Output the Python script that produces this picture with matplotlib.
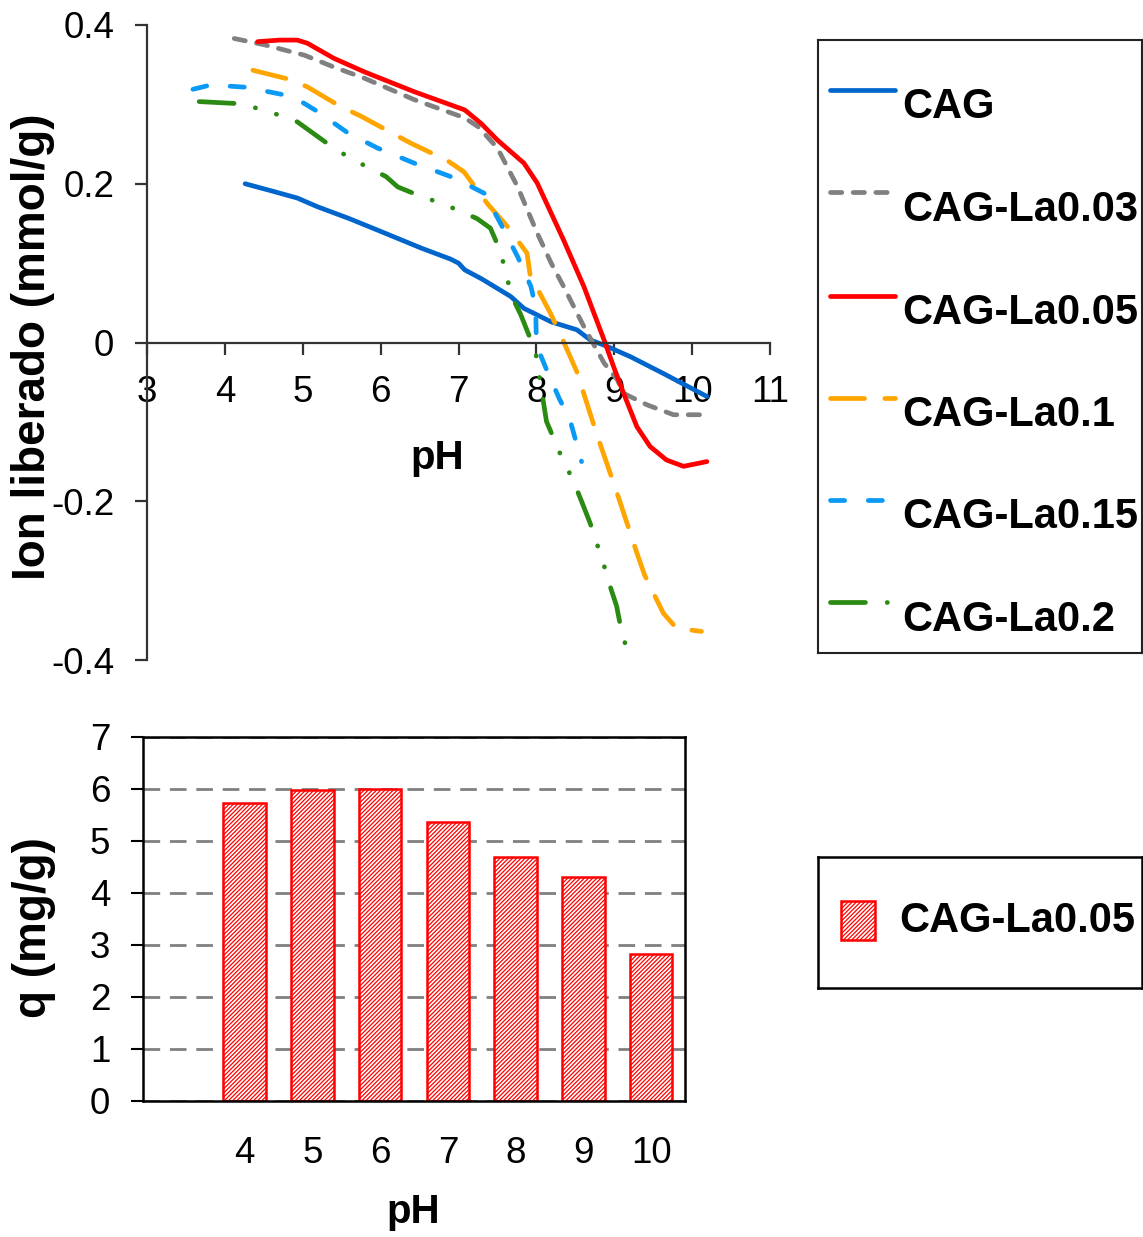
import matplotlib
matplotlib.use("Agg")
import matplotlib.pyplot as plt
from matplotlib.lines import Line2D
from matplotlib.patches import Rectangle

plt.rcParams['font.family'] = ['Liberation Sans', 'DejaVu Sans']
plt.rcParams['hatch.linewidth'] = 0.9

# ---- top panel: ion released vs pH ----
cag_x = [4.26, 4.60, 4.93, 5.19, 5.60, 6.00, 6.52, 6.90, 7.00, 7.08, 7.30, 7.67, 7.84, 8.19,
         8.52, 8.69, 8.91, 9.21, 9.63, 10.19]
cag_y = [0.200, 0.191, 0.182, 0.171, 0.156, 0.140, 0.119, 0.105, 0.100, 0.0915, 0.080, 0.058,
         0.043, 0.026, 0.016, 0.0034, -0.005, -0.018, -0.039, -0.068]

la003_x = [4.12, 4.51, 5.02, 5.40, 5.79, 6.43, 7.08, 7.25, 7.50, 7.76, 8.01, 8.19, 8.35, 8.61,
           8.87, 9.04, 9.12, 9.42, 9.76, 10.12]
la003_y = [0.383, 0.375, 0.362, 0.347, 0.333, 0.306, 0.283, 0.272, 0.245, 0.196, 0.138, 0.100,
           0.0705, 0.020, -0.026, -0.047, -0.064, -0.0785, -0.091, -0.091]

la005_x = [4.42, 4.70, 4.93, 5.06, 5.40, 5.79, 6.43, 7.08, 7.29, 7.50, 7.84, 8.01, 8.35, 8.61,
           8.87, 8.99, 9.12, 9.29, 9.46, 9.67, 9.89, 10.19]
la005_y = [0.379, 0.381, 0.381, 0.377, 0.358, 0.341, 0.316, 0.293, 0.276, 0.255, 0.226, 0.201,
           0.129, 0.0705, 0.003, -0.030, -0.064, -0.106, -0.131, -0.148, -0.156, -0.150]

la01_x = [4.36, 4.85, 5.06, 5.49, 5.75, 6.18, 6.39, 6.86, 7.07, 7.37, 7.63, 7.88, 7.92, 8.18,
          8.30, 8.52, 8.77, 9.03, 9.29, 9.39, 9.63, 9.80, 10.12]
la01_y = [0.343, 0.331, 0.322, 0.297, 0.285, 0.262, 0.251, 0.229, 0.215, 0.175, 0.146, 0.1125,
          0.085, 0.037, 0.012, -0.037, -0.114, -0.188, -0.265, -0.293, -0.341, -0.360, -0.364]

la015_x = [3.59, 3.82, 4.27, 4.76, 4.98, 5.19, 5.58, 5.96, 6.43, 6.90, 7.12, 7.33, 7.54, 7.76,
           7.93, 7.99, 8.00, 8.05, 8.13, 8.30, 8.43, 8.58]
la015_y = [0.319, 0.3245, 0.3216, 0.312, 0.3035, 0.291, 0.264, 0.245, 0.226, 0.209, 0.1986,
           0.188, 0.150, 0.108, 0.0705, 0.045, 0.003, -0.015, -0.034, -0.072, -0.097, -0.150]

la02_x = [3.67, 4.16, 4.42, 4.68, 4.93, 5.34, 5.58, 5.81, 6.07, 6.22, 6.47, 6.73, 6.99, 7.24,
          7.41, 7.52, 7.61, 7.67, 7.80, 7.99, 8.05, 8.13, 8.34, 8.47, 8.58, 8.69, 8.86, 8.94,
          9.03, 9.09, 9.20]
la02_y = [0.3035, 0.301, 0.295, 0.287, 0.278, 0.249, 0.234, 0.222, 0.209, 0.196, 0.186, 0.177,
          0.167, 0.156, 0.144, 0.119, 0.089, 0.061, 0.035, -0.012, -0.050, -0.0995, -0.148,
          -0.173, -0.200, -0.2275, -0.278, -0.305, -0.332, -0.362, -0.400]

series_names = ["CAG", "CAG-La0.03", "CAG-La0.05", "CAG-La0.1", "CAG-La0.15", "CAG-La0.2"]
series_x = [cag_x, la003_x, la005_x, la01_x, la015_x, la02_x]
series_y = [cag_y, la003_y, la005_y, la01_y, la015_y, la02_y]
series_colors = ["#0066CC", "#808080", "#FF0000", "#FFA500", "#0A99F5", "#2A8A12"]
series_dashes = [None, (2.4, 2.4), None, (7.2, 4.3), (3.0, 5.0),
                 (7.4, 4.6, 0.05, 4.6, 0.05, 4.6)]

x_ticks_top = [3, 4, 5, 6, 7, 8, 9, 10, 11]
y_ticks_top = [-0.4, -0.2, 0, 0.2, 0.4]
y_ticklabels_top = ["-0.4", "-0.2", "0", "0.2", "0.4"]

# ---- bottom panel: adsorption capacity ----
bar_ph = [4, 5, 6, 7, 8, 9, 10]
bar_q = [5.73, 5.98, 6.00, 5.37, 4.70, 4.30, 2.83]

W, H = 1143, 1237
fig = plt.figure(figsize=(W / 100, H / 100), dpi=100)


def px_axes(x0, y0, x1, y1):
    return fig.add_axes([x0 / W, 1 - y1 / H, (x1 - x0) / W, (y1 - y0) / H])


axis_col = "#333333"
tick_fs = 26.5
lw = 3.4

ax = px_axes(147, 25, 770, 660)
for xs, ys, c, d in zip(series_x, series_y, series_colors, series_dashes):
    ln, = ax.plot(xs, ys, color=c, lw=lw, solid_capstyle='round', dash_capstyle='round',
                  solid_joinstyle='round', dash_joinstyle='round', clip_on=False)
    if d is not None:
        ln.set_dashes(d)
ax.set_xlim(3, 11)
ax.set_ylim(-0.4, 0.4)
ax.spines['top'].set_visible(False)
ax.spines['right'].set_visible(False)
ax.spines['bottom'].set_position(('data', 0))
for s in ('left', 'bottom'):
    ax.spines[s].set_color(axis_col)
    ax.spines[s].set_linewidth(1.6)
ax.set_xticks(x_ticks_top)
ax.set_yticks(y_ticks_top)
ax.set_yticklabels(y_ticklabels_top)
ax.tick_params(axis='both', direction='out', length=8.5, width=1.6, color=axis_col,
               labelsize=tick_fs)
ax.tick_params(axis='x', pad=15)
ax.tick_params(axis='y', pad=15)
ax.patch.set_alpha(0)

fig.text(437 / W, 1 - 458 / H, "pH", ha='center', va='center', fontsize=29,
         fontweight='bold')
fig.text(33 / W, 1 - 347 / H, "Ion liberado (mmol/g)", ha='center', va='center',
         fontsize=33, fontweight='bold', rotation=90)

# legend for the top panel
lax = px_axes(818, 40, 1142, 653)
lax.set_xlim(818, 1142)
lax.set_ylim(653, 40)
lax.set_xticks([])
lax.set_yticks([])
for s in lax.spines.values():
    s.set_color("#222222")
    s.set_linewidth(1.5)
line_y = [90, 192, 296, 398, 500, 602]
text_y = [107, 210, 313, 415, 517, 620]
for name, c, d, ly, ty in zip(series_names, series_colors, series_dashes, line_y, text_y):
    h = Line2D([830, 895], [ly, ly], color=c, lw=lw, solid_capstyle='round',
               dash_capstyle='round')
    if d is not None:
        h.set_dashes(d)
    lax.add_line(h)
    lax.text(902, ty, name, ha='left', va='center', fontsize=30, fontweight='bold')

# ---- bottom bar chart ----
bx = px_axes(143, 737, 685, 1101)
bx.set_axisbelow(True)
bx.bar(bar_ph, bar_q, width=0.63, facecolor='white', edgecolor='#FF0000', hatch='////////',
       linewidth=1.8, zorder=2)
bx.set_xlim(2.5, 10.5)
bx.set_ylim(0, 7)
bx.set_yticks(range(0, 8))
bx.set_xticks(bar_ph)
bx.set_xticklabels([str(p) for p in bar_ph])
bx.yaxis.grid(True, color='#808080', linestyle=(0, (6, 3.5)), linewidth=2.0, zorder=0)
for s in bx.spines.values():
    s.set_color('black')
    s.set_linewidth(1.8)
bx.tick_params(axis='y', direction='out', length=8.5, width=1.5, labelsize=tick_fs, pad=15)
bx.tick_params(axis='x', length=0, labelsize=tick_fs, pad=25)

fig.text(413 / W, 1 - 1212 / H, "pH", ha='center', va='center', fontsize=29,
         fontweight='bold')
fig.text(34 / W, 1 - 928 / H, "q (mg/g)", ha='center', va='center', fontsize=33,
         fontweight='bold', rotation=90)

# legend for the bar chart
blax = px_axes(818, 857, 1142, 988)
blax.set_xlim(818, 1142)
blax.set_ylim(988, 857)
blax.set_xticks([])
blax.set_yticks([])
for s in blax.spines.values():
    s.set_color('black')
    s.set_linewidth(1.8)
blax.add_patch(Rectangle((841, 901), 34, 39, facecolor='white', edgecolor='#FF0000',
                         hatch='////////', linewidth=1.8))
blax.text(899, 921, "CAG-La0.05", ha='left', va='center', fontsize=30, fontweight='bold')

fig.savefig("out.png", dpi=100)
